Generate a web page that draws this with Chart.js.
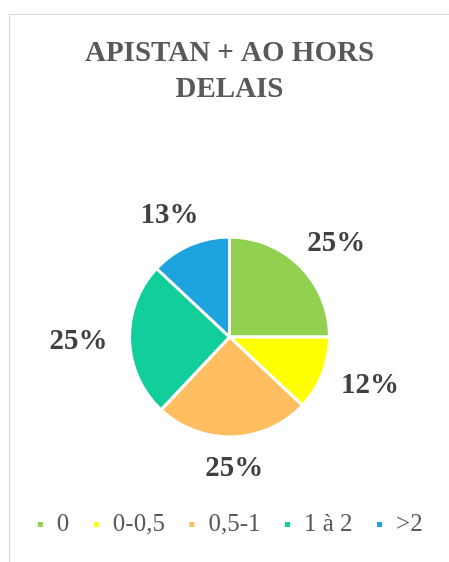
<!DOCTYPE html>
<html>
<head>
<meta charset="utf-8">
<script src="https://cdn.jsdelivr.net/npm/chart.js@4/dist/chart.umd.min.js"></script>
<style>
  body { margin: 0; background: #fff; }
  #frame { position: absolute; left: 9px; top: 14px; width: 460px; height: 560px; border: 1px solid #d9d9d9; }
  #box { position: absolute; left: 0; top: 0; width: 449px; height: 562px; }
</style>
</head>
<body>
<div id="frame"></div>
<div id="box"><canvas id="myChart"></canvas></div>
<script>
var categories = ['0', '0-0,5', '0,5-1', '1 à 2', '>2'];
var values = [25, 12, 25, 25, 13];
var colors = ['#92D050', '#FFFF00', '#FFBF60', '#12CE9A', '#1DA3DD'];
var titre = ['APISTAN + AO HORS', 'DELAIS'];

// etiquettes de donnees a l'exterieur des parts
var pieLabels = {
    id: 'pieLabels',
    afterDatasetsDraw(chart) {
        var ctx = chart.ctx;
        var meta = chart.getDatasetMeta(0);
        var total = values.reduce((a, b) => a + b, 0);
        ctx.save();
        ctx.font = 'bold 29px "Liberation Serif"';
        ctx.fillStyle = '#404040';
        ctx.textAlign = 'center';
        ctx.textBaseline = 'middle';
        meta.data.forEach(function (arc, i) {
            var p = arc.getProps(['x', 'y', 'startAngle', 'endAngle', 'outerRadius']);
            var mid = (p.startAngle + p.endAngle) / 2;
            var txt = Math.round(values[i] / total * 100) + '%';
            var w = ctx.measureText(txt).width;
            var h = 20;
            var d = 22;
            var x = p.x + Math.cos(mid) * (p.outerRadius + d + w / 2);
            var y = p.y + Math.sin(mid) * (p.outerRadius + d + h / 2);
            ctx.fillText(txt, x, y);
        });
        ctx.restore();
    }
};

var ctx = document.getElementById('myChart');
var myChart = new Chart(ctx, {
    type: 'pie',
    data: {
        labels: categories,
        datasets: [{
            data: values,
            backgroundColor: colors,
            borderColor: '#ffffff',
            borderWidth: 3,
            radius: 100
        }]
    },
    options: {
        responsive: true,
        maintainAspectRatio: false,
        animation: false,
        layout: {
            padding: { top: 20, left: 10, right: 0, bottom: 15 }
        },
        plugins: {
            title: {
                display: true,
                text: titre,
                color: '#595959',
                font: { family: 'Liberation Serif', size: 29, weight: 'bold', lineHeight: 1.24 },
                padding: { top: 16, bottom: 77 }
            },
            legend: {
                position: 'bottom',
                labels: {
                    color: '#595959',
                    font: { family: 'Liberation Serif', size: 25 },
                    boxWidth: 8,
                    boxHeight: 8,
                    padding: 23
                }
            },
            tooltip: { enabled: false }
        }
    },
    plugins: [pieLabels]
});
</script>
</body>
</html>
